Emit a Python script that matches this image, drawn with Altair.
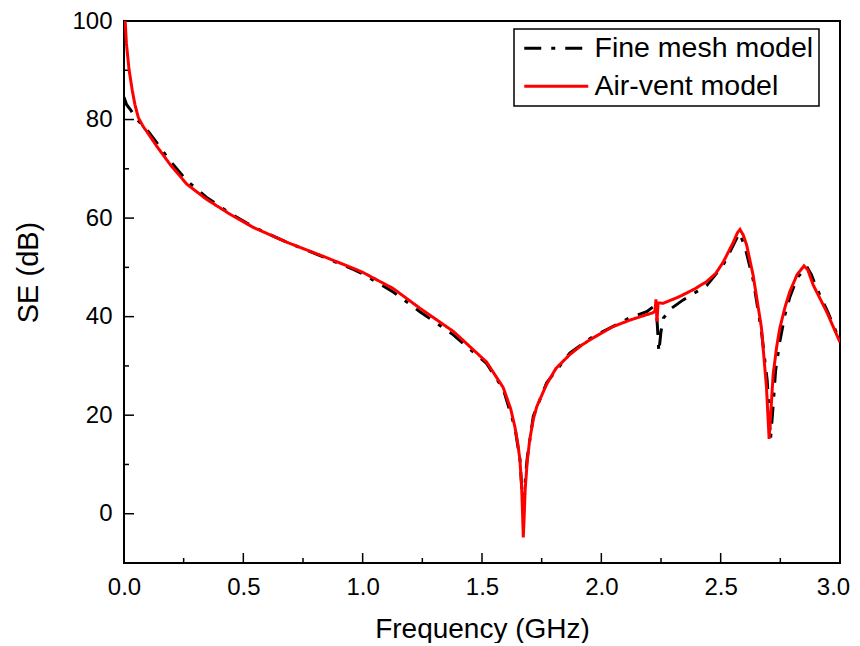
import altair as alt
import pandas as pd

# ---------------- data ----------------
series_names = ["Fine mesh model", "Air-vent model"]

freq_vent = [0.005, 0.010, 0.021, 0.035, 0.046, 0.060, 0.080, 0.095, 0.137, 0.193,
             0.263, 0.346, 0.444, 0.542, 0.682, 0.821, 0.961, 1.000, 1.128, 1.240,
             1.380, 1.519, 1.589, 1.620, 1.638, 1.650, 1.659, 1.666, 1.670, 1.673,
             1.676, 1.681, 1.690, 1.700, 1.715, 1.730, 1.771, 1.810, 1.868, 1.920,
             1.966, 2.050, 2.120, 2.190, 2.217, 2.225, 2.229, 2.233, 2.238, 2.259,
             2.329, 2.390, 2.441, 2.480, 2.511, 2.553, 2.570, 2.581, 2.595, 2.609,
             2.636, 2.671, 2.692, 2.703, 2.712, 2.720, 2.735, 2.748, 2.770, 2.790,
             2.820, 2.849, 2.865, 2.888, 2.944, 3.000]
se_vent = [100.0, 95.5, 90.2, 85.8, 83.0, 80.4, 78.6, 77.6, 74.6, 70.9,
           66.9, 63.8, 60.8, 58.1, 55.1, 52.5, 49.8, 49.0, 45.7, 41.7,
           37.0, 30.8, 25.6, 21.3, 17.6, 14.2, 10.9, 5.5, 0.0, -4.8,
           -1.5, 5.0, 10.9, 15.0, 19.2, 21.8, 26.3, 29.5, 32.3, 34.3,
           35.7, 38.0, 39.3, 40.4, 40.8, 41.2, 43.5, 39.0, 42.8, 42.7,
           44.1, 45.6, 47.1, 48.8, 51.1, 55.1, 57.0, 57.7, 56.5, 54.5,
           48.4, 37.7, 25.6, 15.2, 22.0, 28.3, 34.0, 37.7, 42.0, 45.1,
           48.5, 50.3, 49.5, 46.4, 41.0, 34.8]

freq_mesh = [0.000, 0.011, 0.030, 0.046, 0.070, 0.095, 0.137, 0.193, 0.263, 0.346,
             0.444, 0.542, 0.682, 0.821, 0.961, 1.000, 1.128, 1.240, 1.380, 1.519,
             1.589, 1.638, 1.659, 1.667, 1.672, 1.676, 1.683, 1.690, 1.715, 1.771,
             1.868, 1.966, 2.078, 2.120, 2.190, 2.217, 2.228, 2.235, 2.241, 2.250,
             2.260, 2.294, 2.343, 2.441, 2.511, 2.553, 2.578, 2.600, 2.636, 2.671,
             2.695, 2.709, 2.720, 2.730, 2.748, 2.770, 2.790, 2.820, 2.860, 2.880,
             2.900, 2.950, 3.000]
se_mesh = [84.5, 83.0, 81.8, 80.6, 79.2, 78.0, 75.3, 71.6, 67.6, 64.2,
           61.0, 58.2, 55.1, 52.4, 49.6, 48.7, 45.0, 41.0, 36.3, 30.5,
           25.3, 17.5, 11.0, 5.0, 0.5, 2.0, 8.0, 11.5, 19.8, 26.6,
           32.6, 36.0, 38.7, 39.8, 41.0, 42.0, 43.2, 38.0, 32.8, 37.0,
           39.7, 41.7, 43.4, 46.3, 50.5, 54.5, 57.0, 54.5, 47.5, 37.0,
           27.0, 15.2, 22.0, 29.0, 35.0, 40.5, 44.0, 47.8, 50.2, 48.5,
           46.0, 40.8, 35.0]

x_major = [0.0, 0.5, 1.0, 1.5, 2.0, 2.5, 3.0]
x_minor = [0.25, 0.75, 1.25, 1.75, 2.25, 2.75]
y_major = [0, 20, 40, 60, 80, 100]
y_minor = [10, 30, 50, 70, 90]

# ---------------- tables ----------------
df_mesh = pd.DataFrame({"f": freq_mesh, "se": se_mesh, "model": series_names[0]})
df_vent = pd.DataFrame({"f": freq_vent, "se": se_vent, "model": series_names[1]})

FONT = "Liberation Sans"
W, H = 716, 542

x_scale = alt.Scale(domain=[0, 3], nice=False, zero=False)
y_scale = alt.Scale(domain=[-10, 100], nice=False, zero=False)

x_axis = alt.Axis(values=x_major, format=".1f", labelFontSize=24, labelFont=FONT,
                  labelColor="black", ticks=False, tickSize=0, domain=False, grid=False,
                  labelPadding=12, labelFlush=False,
                  labelOffset={"condition": {"test": "datum.value == 3", "value": -7}, "value": 0},
                  title="Frequency (GHz)",
                  titleFontSize=28, titleFont=FONT, titleFontWeight="normal",
                  titleColor="black", titleY=74, titleBaseline="alphabetic")
y_axis = alt.Axis(values=y_major, format="d", labelFontSize=24, labelFont=FONT,
                  labelColor="black", ticks=False, tickSize=0, domain=False, grid=False,
                  labelPadding=12,
                  title="SE (dB)", titleFontSize=29, titleFont=FONT,
                  titleFontWeight="normal", titleColor="black", titleX=-87, titleY=251,
                  titleAngle=270, titleAlign="center", titleBaseline="alphabetic")

color_scale = alt.Scale(domain=series_names, range=["black", "red"])
dash_scale = alt.Scale(domain=series_names, range=[[17, 10, 4, 10], [1, 0]])

legend = alt.Legend(title=None, orient="none", legendX=390, legendY=8,
                    symbolType="M-1.125,0H6.875", symbolSize=256, symbolStrokeWidth=3,
                    labelFontSize=28.5, labelFont=FONT, labelColor="black", labelLimit=400,
                    labelOffset=47, padding=5, rowPadding=9, strokeColor="black",
                    fillColor="white")

def line_layer(df, width):
    return alt.Chart(df).mark_line(strokeWidth=width, clip=True).encode(
        x=alt.X("f:Q", scale=x_scale, axis=x_axis),
        y=alt.Y("se:Q", scale=y_scale, axis=y_axis),
        color=alt.Color("model:N", scale=color_scale, legend=legend),
        strokeDash=alt.StrokeDash("model:N", scale=dash_scale, legend=legend),
    )

mesh = line_layer(df_mesh, 3)
vent = line_layer(df_vent, 3)

# inward ticks
xt_major = alt.Chart(pd.DataFrame({"t": x_major})).mark_rule(color="black", strokeWidth=1.5).encode(
    x=alt.X("t:Q", scale=x_scale), y=alt.value(H), y2=alt.value(H - 10))
xt_minor = alt.Chart(pd.DataFrame({"t": x_minor})).mark_rule(color="black", strokeWidth=1.5).encode(
    x=alt.X("t:Q", scale=x_scale), y=alt.value(H), y2=alt.value(H - 5))
yt_major = alt.Chart(pd.DataFrame({"t": y_major})).mark_rule(color="black", strokeWidth=1.5).encode(
    y=alt.Y("t:Q", scale=y_scale), x=alt.value(0), x2=alt.value(10))
yt_minor = alt.Chart(pd.DataFrame({"t": y_minor})).mark_rule(color="black", strokeWidth=1.5).encode(
    y=alt.Y("t:Q", scale=y_scale), x=alt.value(0), x2=alt.value(5))

chart = alt.layer(xt_major, xt_minor, yt_major, yt_minor, mesh, vent).properties(
    width=W, height=H,
    autosize=alt.AutoSizeParams(type="none"),
    padding={"left": 116, "top": 13, "right": 12, "bottom": 80},
    background="white",
).configure_view(stroke="black", strokeWidth=2).configure_legend(strokeWidth=1.5)

chart.save("out.html", embed_options={"renderer": "svg", "actions": False})
